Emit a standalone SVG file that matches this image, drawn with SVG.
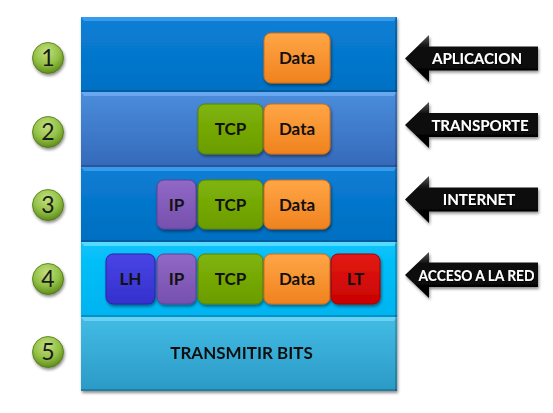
<svg xmlns="http://www.w3.org/2000/svg" width="553" height="413" viewBox="0 0 553 413">
<defs>
  <linearGradient id="gBand1" x1="0" y1="0" x2="0" y2="1"><stop offset="0" stop-color="#0a7fd6"/><stop offset="1" stop-color="#0170c4"/></linearGradient>
  <linearGradient id="gBand2" x1="0" y1="0" x2="0" y2="1"><stop offset="0" stop-color="#4a8ddc"/><stop offset="1" stop-color="#3569ba"/></linearGradient>
  <linearGradient id="gBand3" x1="0" y1="0" x2="0" y2="1"><stop offset="0" stop-color="#0a7dd4"/><stop offset="1" stop-color="#016fc2"/></linearGradient>
  <linearGradient id="gBand4" x1="0" y1="0" x2="0" y2="1"><stop offset="0" stop-color="#08c2fb"/><stop offset="1" stop-color="#00b4f0"/></linearGradient>
  <linearGradient id="gBand5" x1="0" y1="0" x2="0" y2="1"><stop offset="0" stop-color="#42bce4"/><stop offset="1" stop-color="#2b9ac6"/></linearGradient>
  <linearGradient id="gData" x1="0" y1="0" x2="0" y2="1"><stop offset="0" stop-color="#ffa646"/><stop offset="1" stop-color="#f0821e"/></linearGradient>
  <linearGradient id="gTcp" x1="0" y1="0" x2="0" y2="1"><stop offset="0" stop-color="#80b40a"/><stop offset="1" stop-color="#6a9c00"/></linearGradient>
  <linearGradient id="gIp" x1="0" y1="0" x2="0" y2="1"><stop offset="0" stop-color="#9168c6"/><stop offset="1" stop-color="#7650ae"/></linearGradient>
  <linearGradient id="gLh" x1="0" y1="0" x2="0" y2="1"><stop offset="0" stop-color="#4a44e6"/><stop offset="1" stop-color="#3330cc"/></linearGradient>
  <linearGradient id="gLt" x1="0" y1="0" x2="0" y2="1"><stop offset="0" stop-color="#e41a14"/><stop offset="1" stop-color="#c80202"/></linearGradient>
  <radialGradient id="gBall" cx="0.45" cy="0.3" r="0.7"><stop offset="0" stop-color="#c2e07e"/><stop offset="0.6" stop-color="#92c044"/><stop offset="1" stop-color="#5f8c1c"/></radialGradient>
  <linearGradient id="gArrow" x1="0" y1="0" x2="0" y2="1"><stop offset="0" stop-color="#555"/><stop offset="0.25" stop-color="#111"/><stop offset="1" stop-color="#000"/></linearGradient>
  <filter id="shadow" x="-10%" y="-10%" width="130%" height="130%"><feDropShadow dx="1" dy="2" stdDeviation="1.5" flood-color="#000" flood-opacity="0.45"/></filter>
  <filter id="tshadow" x="-10%" y="-20%" width="130%" height="150%"><feDropShadow dx="1" dy="1" stdDeviation="0.6" flood-color="#000" flood-opacity="0.8"/></filter>
</defs>
<style>
  .box { stroke-width: 1; filter: url(#shadow); }
  .lbl { font-family: Lato, "Liberation Sans", sans-serif; font-weight: bold; font-size: 17px; fill: #111; text-anchor: middle; }
  .num { font-family: Lato, "Liberation Sans", sans-serif; font-size: 23px; fill: #1a1a1a; text-anchor: middle; }
  .alb { font-family: Lato, "Liberation Sans", sans-serif; font-weight: bold; font-size: 15px; fill: #fff; text-anchor: middle; filter: url(#tshadow); }
  .bevel { opacity: 0.95; }
  .edge { fill: #000; opacity: 0.18; }
</style>
<rect x="0" y="0" width="553" height="413" fill="#fff"/>

<g id="stack" filter="url(#shadow)">
  <g id="layer1">
    <rect x="81" y="17" width="316" height="75" fill="url(#gBand1)"/>
    <polygon class="bevel" points="81,17 397,17 394,21 84,21" fill="#3c9cec"/>
    <rect class="edge" x="81" y="90" width="316" height="2"/>
  </g>
  <g id="layer2">
    <rect x="81" y="92" width="316" height="75" fill="url(#gBand2)"/>
    <polygon class="bevel" points="81,92 397,92 394,96 84,96" fill="#6aaaf2"/>
    <rect class="edge" x="81" y="165" width="316" height="2"/>
  </g>
  <g id="layer3">
    <rect x="81" y="167" width="316" height="75" fill="url(#gBand3)"/>
    <polygon class="bevel" points="81,167 397,167 394,171 84,171" fill="#3c9cec"/>
    <rect class="edge" x="81" y="240" width="316" height="2"/>
  </g>
  <g id="layer4">
    <rect x="81" y="242" width="316" height="75" fill="url(#gBand4)"/>
    <polygon class="bevel" points="81,242 397,242 394,246 84,246" fill="#5adcff"/>
    <rect class="edge" x="81" y="315" width="316" height="2"/>
  </g>
  <g id="layer5">
    <rect x="81" y="317" width="316" height="74" fill="url(#gBand5)"/>
    <polygon class="bevel" points="81,317 397,317 394,321 84,321" fill="#6ed2f2"/>
    <rect class="edge" x="81" y="389" width="316" height="2"/>
    <text class="lbl" x="241.5" y="358.5" font-size="18.5">TRANSMITIR BITS</text>
  </g>
  <rect class="edge" x="395" y="17" width="2" height="374"/>
</g>

<g id="l1-data"><rect class="box" x="264" y="33" width="66" height="50" rx="7" fill="url(#gData)" stroke="#d46c12"/><text class="lbl" x="297" y="64">Data</text></g>

<g id="l2-tcp"><rect class="box" x="198" y="104" width="65" height="50" rx="7" fill="url(#gTcp)" stroke="#5a8400"/><text class="lbl" x="230.5" y="135">TCP</text></g>
<g id="l2-data"><rect class="box" x="264" y="104" width="66" height="50" rx="7" fill="url(#gData)" stroke="#d46c12"/><text class="lbl" x="297" y="135">Data</text></g>

<g id="l3-ip"><rect class="box" x="157" y="180" width="39" height="49" rx="7" fill="url(#gIp)" stroke="#62409a"/><text class="lbl" x="176.5" y="211">IP</text></g>
<g id="l3-tcp"><rect class="box" x="198" y="180" width="65" height="49" rx="7" fill="url(#gTcp)" stroke="#5a8400"/><text class="lbl" x="230.5" y="211">TCP</text></g>
<g id="l3-data"><rect class="box" x="264" y="180" width="66" height="49" rx="7" fill="url(#gData)" stroke="#d46c12"/><text class="lbl" x="297" y="211">Data</text></g>

<g id="l4-lh"><rect class="box" x="106" y="254" width="49" height="50" rx="7" fill="url(#gLh)" stroke="#2824a8"/><text class="lbl" x="130.5" y="285">LH</text></g>
<g id="l4-ip"><rect class="box" x="157" y="254" width="39" height="50" rx="7" fill="url(#gIp)" stroke="#62409a"/><text class="lbl" x="176.5" y="285">IP</text></g>
<g id="l4-tcp"><rect class="box" x="198" y="254" width="65" height="50" rx="7" fill="url(#gTcp)" stroke="#5a8400"/><text class="lbl" x="230.5" y="285">TCP</text></g>
<g id="l4-data"><rect class="box" x="264" y="254" width="66" height="50" rx="7" fill="url(#gData)" stroke="#d46c12"/><text class="lbl" x="297" y="285">Data</text></g>
<g id="l4-lt"><rect class="box" x="331" y="254" width="49" height="50" rx="7" fill="url(#gLt)" stroke="#a00000"/><text class="lbl" x="355.5" y="285">LT</text></g>

<g id="num1"><circle cx="48" cy="58" r="15.5" fill="url(#gBall)" stroke="#4e7614" stroke-width="0.8" filter="url(#shadow)"/><text class="num" x="48" y="66">1</text></g>
<g id="num2"><circle cx="48" cy="132" r="15.5" fill="url(#gBall)" stroke="#4e7614" stroke-width="0.8" filter="url(#shadow)"/><text class="num" x="48" y="140">2</text></g>
<g id="num3"><circle cx="48" cy="205" r="15.5" fill="url(#gBall)" stroke="#4e7614" stroke-width="0.8" filter="url(#shadow)"/><text class="num" x="48" y="213">3</text></g>
<g id="num4"><circle cx="48" cy="279" r="15.5" fill="url(#gBall)" stroke="#4e7614" stroke-width="0.8" filter="url(#shadow)"/><text class="num" x="48" y="287">4</text></g>
<g id="num5"><circle cx="48" cy="352" r="15.5" fill="url(#gBall)" stroke="#4e7614" stroke-width="0.8" filter="url(#shadow)"/><text class="num" x="48" y="360">5</text></g>

<g id="arrow1"><path d="M405,58.5 L429,35 L429,46.5 L538,46.5 L538,70.5 L429,70.5 L429,82 Z" fill="url(#gArrow)" filter="url(#shadow)"/><text class="alb" x="477" y="64">APLICACION</text></g>
<g id="arrow2"><path d="M405,125 L429,102 L429,113 L538,113 L538,137 L429,137 L429,148 Z" fill="url(#gArrow)" filter="url(#shadow)"/><text class="alb" x="480" y="130.5">TRANSPORTE</text></g>
<g id="arrow3"><path d="M405,199.5 L429,176 L429,187.5 L538,187.5 L538,211.5 L429,211.5 L429,223 Z" fill="url(#gArrow)" filter="url(#shadow)"/><text class="alb" x="479" y="205">INTERNET</text></g>
<g id="arrow4"><path d="M405,275 L429,252 L429,262.5 L538,262.5 L538,287 L429,287 L429,298 Z" fill="url(#gArrow)" filter="url(#shadow)"/><text class="alb" x="476.5" y="280.5" textLength="116" lengthAdjust="spacingAndGlyphs">ACCESO A LA RED</text></g>
</svg>
